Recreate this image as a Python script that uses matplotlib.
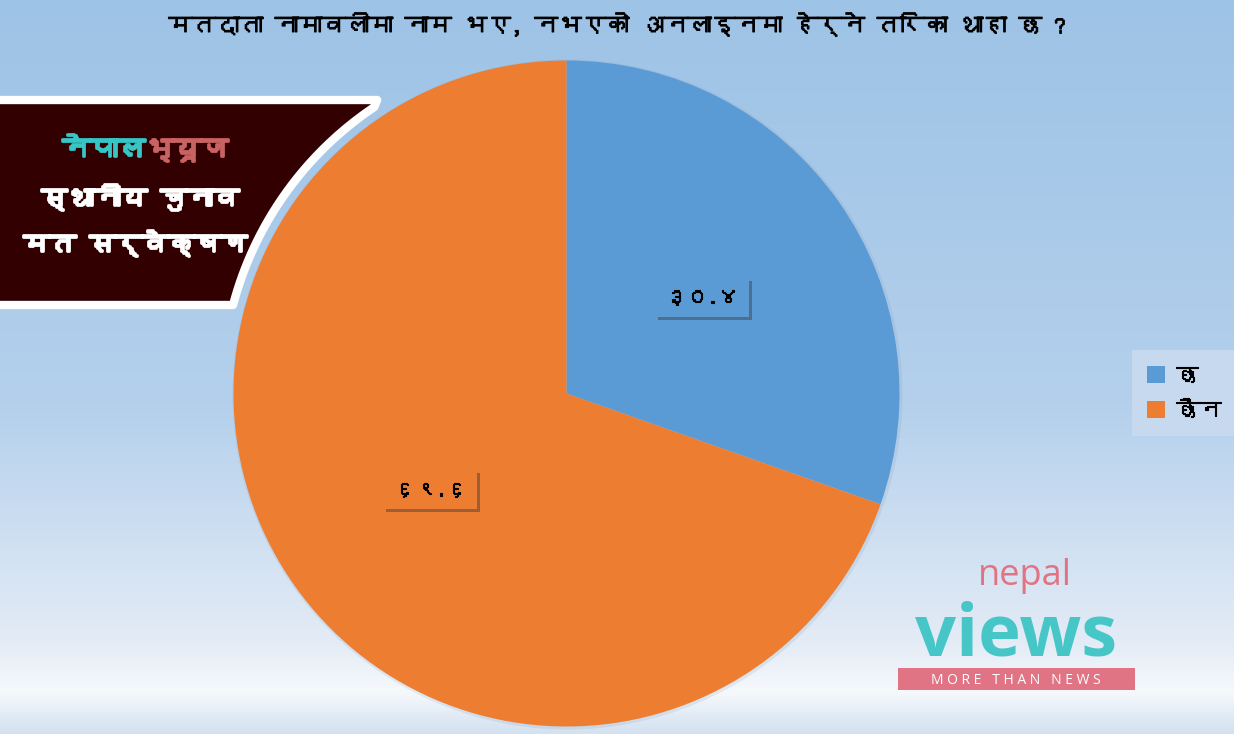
import numpy as np
import matplotlib
matplotlib.use("Agg")
import matplotlib.pyplot as plt
from matplotlib import font_manager
from matplotlib.ft2font import FT2Font
from matplotlib.patches import PathPatch, Rectangle, Circle
from matplotlib.path import Path
import matplotlib.patheffects as pe
from matplotlib.colors import LinearSegmentedColormap

# Données
categories = ["छ", "छैन"]
values = [30.4, 69.6]
colors = ["#5b9bd5", "#ed7d31"]
title = "मतदाता नामावलीमा नाम भए, नभएको अनलाइनमा हेर्ने तरिका थाहा छ ?"

W, H = 1234, 734


def find_font(ch):
    # cherche une police installée qui contient le caractère
    for f in font_manager.fontManager.ttflist:
        try:
            if ord(ch) in FT2Font(f.fname).get_charmap():
                return f.name
        except Exception:
            pass
    return None


deva = find_font("न")
fams = ([deva] if deva else []) + ["Noto Sans", "DejaVu Sans"]
plt.rcParams["font.family"] = fams

nep_digits = str.maketrans("0123456789", "०१२३४५६७८९")


def fmt_pct(p):
    return f"{p:.1f}".translate(nep_digits)


def bold(c, w=1.2):
    return [pe.withStroke(linewidth=w, foreground=c)]


fig = plt.figure(figsize=(W / 100, H / 100), dpi=100)

# fond en dégradé
bg = fig.add_axes([0, 0, 1, 1])
cmap = LinearSegmentedColormap.from_list(
    "bg", [(0, "#9dc3e6"), (0.55, "#b4d0ec"), (0.88, "#e4ecf6"),
           (0.945, "#f6f9fc"), (1.0, "#d3e1f0")])
grad = np.linspace(0, 1, 256).reshape(-1, 1)
bg.imshow(grad, aspect="auto", cmap=cmap, extent=[0, W, H, 0])
bg.set_axis_off()

ax = fig.add_axes([0, 0, 1, 1])
ax.set_xlim(0, W)
ax.set_ylim(0, H)
ax.set_axis_off()

cx, cy, r = 566.5, H - 393.5, 333

# ombre légère du camembert
ax.add_patch(Circle((cx + 1, cy - 1), r + 2, facecolor="#7f9cbd", alpha=0.18, lw=0))

wedges, texts, autotexts = ax.pie(
    values, colors=colors, startangle=90, counterclock=False,
    center=(cx, cy), radius=r, autopct=fmt_pct, pctdistance=0.5,
    wedgeprops=dict(linewidth=0), textprops=dict(fontsize=15, color="black"),
    frame=True)
ax.set_xlim(0, W)
ax.set_ylim(0, H)
ax.set_aspect("auto")
ax.set_axis_off()

for t, c in zip(autotexts, colors):
    t.set_path_effects(bold("black", 0.8))
    t.set_bbox(dict(boxstyle="square,pad=0.5", facecolor=c, edgecolor="none"))
    t.get_bbox_patch().set_path_effects(
        [pe.SimplePatchShadow(offset=(2, -2), shadow_rgbFace="#3a3a3a", alpha=0.45), pe.Normal()])

leg = ax.legend(wedges, categories, loc="center", bbox_to_anchor=(1184 / W, 1 - 393 / H),
                bbox_transform=fig.transFigure, frameon=True, fancybox=False,
                fontsize=16, handlelength=0.8, handleheight=0.8, labelspacing=0.7,
                borderpad=0.7, handletextpad=0.5)
leg.get_frame().set_facecolor("#c6d9ee")
leg.get_frame().set_edgecolor("none")
leg.get_frame().set_alpha(1)
for t in leg.get_texts():
    t.set_path_effects(bold("black", 0.8))

fig.text(617 / W, 1 - 25 / H, title, ha="center", va="center", fontsize=17, color="black",
         path_effects=bold("black", 0.8))

# bandeau gauche
top, bot = H - 100, H - 305
R = 345
arc = [(cx - R * np.cos(np.arcsin((cy - y) / R)), y) for y in np.linspace(top, bot, 30)]
verts = [(-20, top)] + [(arc[0][0] - 8, top)] + arc[1:] + [(arc[-1][0], bot), (-20, bot), (-20, top)]
codes = [Path.MOVETO] + [Path.LINETO] * (len(verts) - 1)
ax.add_patch(PathPatch(Path(verts, codes), facecolor="#320000", edgecolor="white",
                       lw=6, joinstyle="round"))

ax.text(145, H - 150, "नेपाल", ha="right", va="center", fontsize=20,
        color="#36c6c6", path_effects=bold("#36c6c6", 2))
ax.text(145, H - 150, "भ्यूज", ha="left", va="center", fontsize=20,
        color="#c96262", path_effects=bold("#c96262", 2))
ax.text(140, H - 197, "स्थानीय चुनाव", ha="center", va="center", fontsize=19,
        color="white", path_effects=bold("white", 2))
ax.text(135, H - 243, "मत सर्वेक्षण", ha="center", va="center", fontsize=19,
        color="white", path_effects=bold("white", 2))

# logo
ax.text(1025, H - 576, "nepal", ha="center", va="center", fontsize=26, color="#e07484",
        family=["Open Sans", "DejaVu Sans"])
ax.text(1016, H - 655, "views", ha="center", va="baseline", fontsize=52, fontweight="bold",
        color="#47c6c8", family=["Open Sans", "DejaVu Sans"])
ax.add_patch(Rectangle((898, H - 690), 237, 22, facecolor="#e07484", edgecolor="none"))
ax.text(1016, H - 680, "M O R E   T H A N   N E W S", ha="center", va="center",
        fontsize=10, color="white", family=["Open Sans", "DejaVu Sans"])

fig.savefig("out.png", dpi=100)
